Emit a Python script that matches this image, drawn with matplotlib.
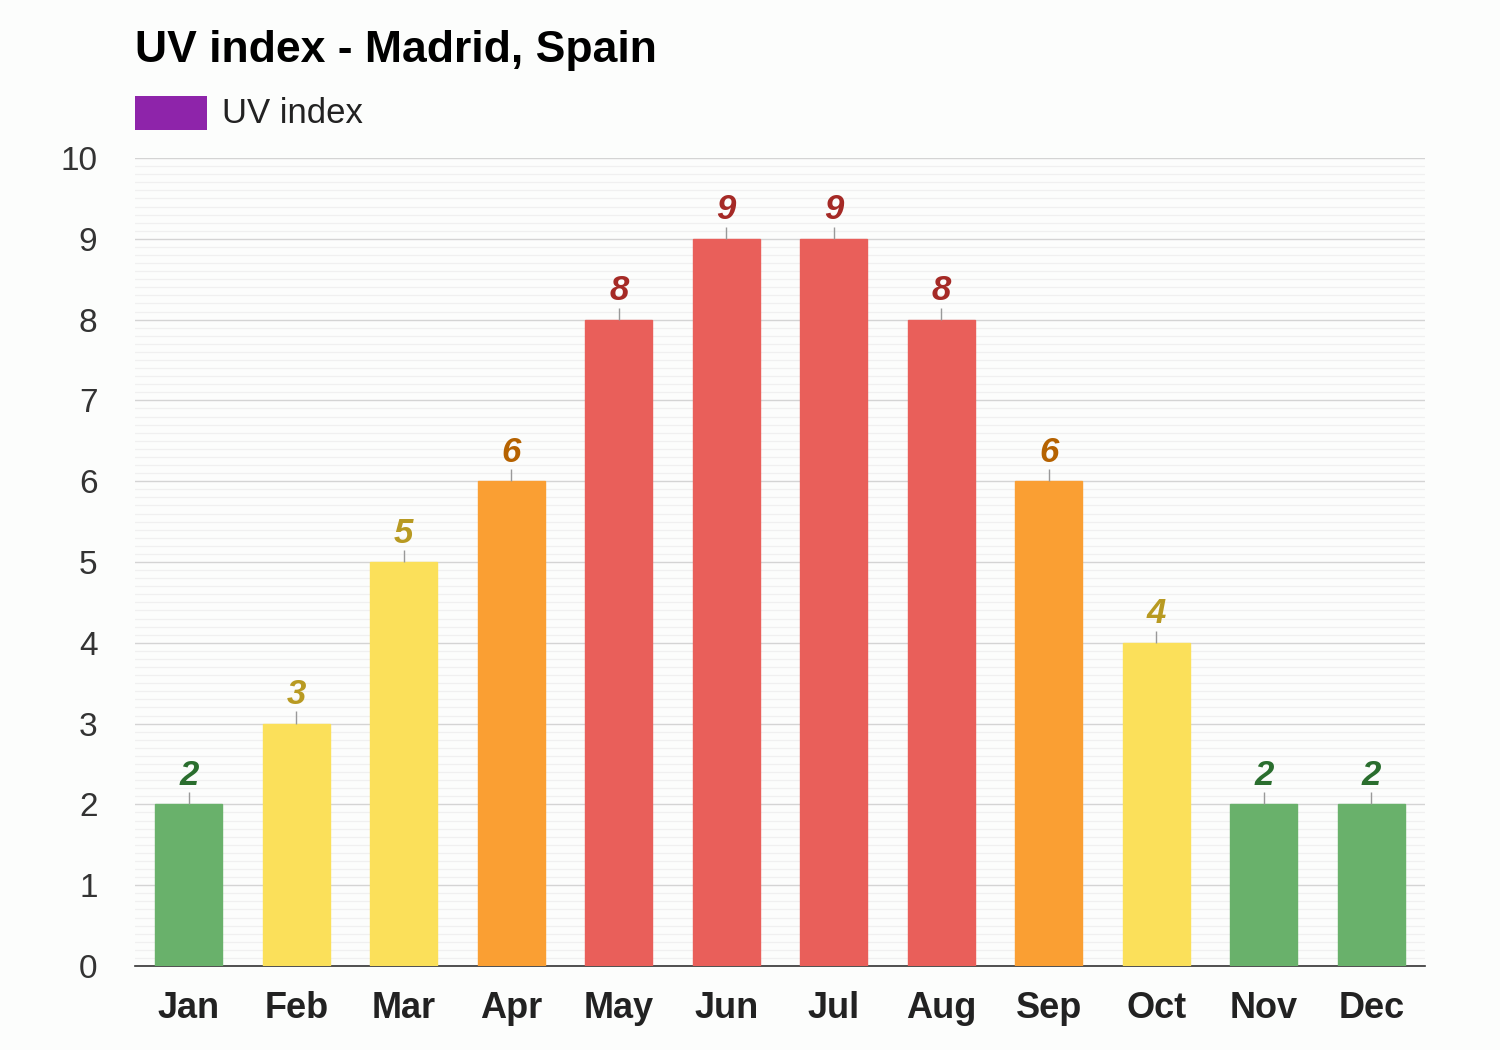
import matplotlib.pyplot as plt
import numpy as np
from matplotlib.patches import Rectangle

months = ["Jan", "Feb", "Mar", "Apr", "May", "Jun", "Jul", "Aug", "Sep", "Oct", "Nov", "Dec"]
uv_index = [2, 3, 5, 6, 8, 9, 9, 8, 6, 4, 2, 2]


def uv_colors(v):
    # bar fill, label colour
    if v <= 2:
        return "#69b16b", "#2a6e2e"
    if v <= 5:
        return "#fbe05a", "#b89a22"
    if v <= 7:
        return "#fa9f33", "#b56200"
    return "#e95f5a", "#a52a26"


plt.rcParams["font.family"] = ["Liberation Sans", "DejaVu Sans"]
bg = "#fcfdfc"

fig = plt.figure(figsize=(15, 10.5), dpi=100, facecolor=bg)
ax = fig.add_axes([0.09, 0.08, 0.86, 0.7695], facecolor=bg)

x = np.arange(len(months))
fills = [uv_colors(v)[0] for v in uv_index]
ax.bar(x, uv_index, width=0.62, color=fills, edgecolor=fills, linewidth=1, zorder=3)

for xi, v in zip(x, uv_index):
    ax.vlines(xi, v, v + 0.15, color="#999999", linewidth=1, zorder=3)
    ax.annotate(str(v), (xi, v), xytext=(0, 9), textcoords="offset points",
                ha="center", va="bottom", fontsize=25, fontweight="bold",
                fontstyle="italic", color=uv_colors(v)[1])

ax.set_xlim(-0.5, len(months) - 0.5)
ax.set_ylim(0, 10)
ax.set_yticks(np.arange(0, 11, 1))
ax.set_yticks(np.arange(0, 10.01, 0.1), minor=True)
ax.grid(axis="y", which="major", color="#d4d4d4", linewidth=1, zorder=0)
ax.grid(axis="y", which="minor", color="#f0f0f0", linewidth=0.9, zorder=0)
ax.set_xticks(x)
ax.set_xticklabels(months, fontsize=26, fontweight="bold", color="#222222")
ax.tick_params(axis="x", length=0, pad=18)
ax.tick_params(axis="y", which="both", length=0, pad=27, labelsize=24, labelcolor="#333333")

for side in ("left", "right", "top"):
    ax.spines[side].set_visible(False)
ax.spines["bottom"].set_color("#333333")
ax.spines["bottom"].set_linewidth(1.2)

fig.text(0.09, 0.952, "UV index - Madrid, Spain", fontsize=32, fontweight="bold",
         color="#000000", ha="left", va="center")
fig.patches.append(Rectangle((0.09, 0.876), 0.048, 0.033, transform=fig.transFigure,
                             facecolor="#8e24aa", edgecolor="none"))
fig.text(0.148, 0.892, "UV index", fontsize=25, color="#222222", ha="left", va="center")

fig.savefig("out.png", dpi=100, facecolor=bg)
